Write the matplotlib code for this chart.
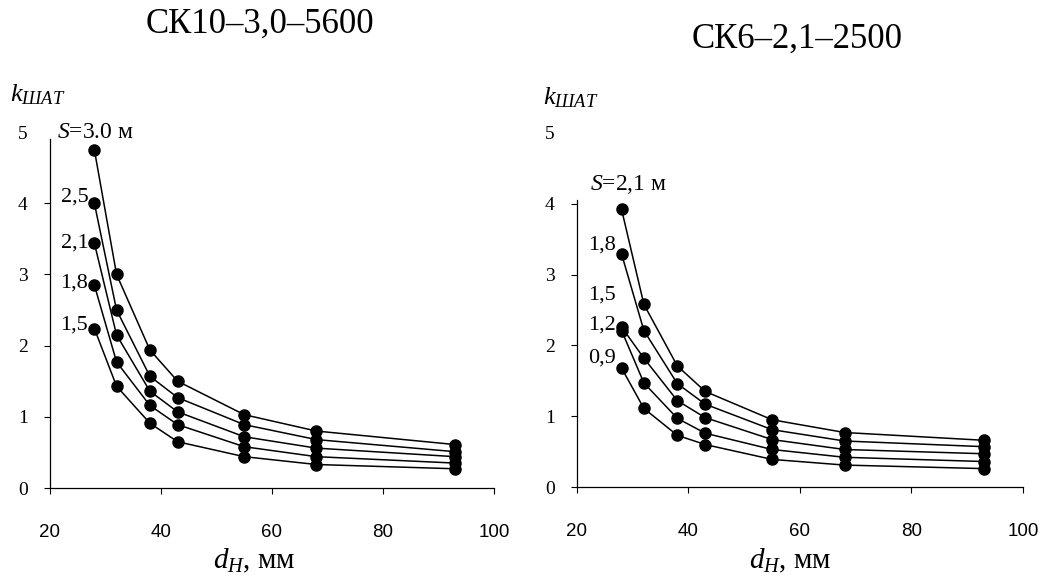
import matplotlib
matplotlib.use("Agg")
import matplotlib.pyplot as plt

plt.rcParams['font.family'] = ['Liberation Serif', 'DejaVu Serif']
plt.rcParams['mathtext.fontset'] = 'custom'
plt.rcParams['mathtext.rm'] = 'Liberation Serif'
plt.rcParams['mathtext.it'] = 'Liberation Serif:italic'

# plunger diameter, mm
d_n = [28, 32, 38, 43, 55, 68, 93]

# СК10-3,0-5600, stroke lengths S (m)
left_title = "СК10–3,0–5600"
left_labels = ["$S$=3.0 м", "2,5", "2,1", "1,8", "1,5"]
k_30 = [4.75, 3.00, 1.94, 1.50, 1.03, 0.80, 0.61]
k_25 = [4.00, 2.50, 1.57, 1.27, 0.89, 0.68, 0.51]
k_21 = [3.44, 2.15, 1.36, 1.07, 0.72, 0.56, 0.44]
k_18 = [2.85, 1.77, 1.16, 0.89, 0.58, 0.44, 0.35]
k_15 = [2.24, 1.43, 0.91, 0.65, 0.44, 0.33, 0.27]

# СК6-2,1-2500
right_title = "СК6–2,1–2500"
right_labels = ["$S$=2,1 м", "1,8", "1,5", "1,2", "0,9"]
r_21 = [3.92, 2.58, 1.71, 1.35, 0.95, 0.77, 0.66]
r_18 = [3.29, 2.21, 1.46, 1.17, 0.81, 0.65, 0.57]
r_15 = [2.26, 1.82, 1.22, 0.98, 0.67, 0.53, 0.47]
r_12 = [2.21, 1.47, 0.97, 0.76, 0.53, 0.42, 0.36]
r_09 = [1.68, 1.11, 0.73, 0.60, 0.39, 0.31, 0.26]

x_ticks = [20, 40, 60, 80, 100]
y_ticks = [0, 1, 2, 3, 4, 5]

fig = plt.figure(figsize=(10.43, 5.75), dpi=100)


def panel(rect, series, labels, label_pos, spine_top):
    ax = fig.add_axes(rect)
    for k in series:
        ax.plot(d_n, k, 'k-', lw=1.1, marker='o', ms=8, mfc='k', mec='k')
    for i, (lab, (lx, ly, ha)) in enumerate(zip(labels, label_pos)):
        ax.text(lx, ly, lab, ha=ha, va='center', fontsize=17 if i == 0 else 16)
    ax.set_xlim(20, 100)
    ax.set_ylim(0, 5)
    ax.set_xticks(x_ticks)
    ax.set_yticks(y_ticks)
    ax.spines['top'].set_visible(False)
    ax.spines['right'].set_visible(False)
    ax.spines['left'].set_bounds(0, spine_top)
    for s in ('left', 'bottom'):
        ax.spines[s].set_linewidth(0.9)
    ax.tick_params(axis='y', direction='out', length=4, width=0.8, pad=12,
                   labelsize=14)
    ax.tick_params(axis='x', direction='out', length=4, width=0.8, pad=22,
                   labelsize=13.5)
    ax.yaxis.get_major_ticks()[-1].tick1line.set_visible(False)
    for t in ax.get_xticklabels():
        t.set_fontfamily(['Liberation Sans Narrow', 'Liberation Sans'])
    ax.patch.set_alpha(0)
    return ax


axl = panel([0.0479, 0.1513, 0.4257, 0.6191],
            [k_30, k_25, k_21, k_18, k_15], left_labels,
            [(21.3, 5.0, 'left'), (26.9, 4.09, 'right'), (26.9, 3.44, 'right'),
             (26.9, 2.88, 'right'), (26.9, 2.29, 'right')], 4.9)
axr = panel([0.5532, 0.1530, 0.4276, 0.6157],
            [r_21, r_18, r_15, r_12, r_09], right_labels,
            [(22.3, 4.27, 'left'), (26.9, 3.42, 'right'), (26.9, 2.71, 'right'),
             (26.9, 2.29, 'right'), (26.9, 1.82, 'right')], 4.05)

fig.text(260 / 1043, 1 - 24 / 575, left_title, ha='center', va='center', fontsize=25)
fig.text(797 / 1043, 1 - 39 / 575, right_title, ha='center', va='center', fontsize=25)

fig.text(10 / 1043, 1 - 95 / 575, "$k_{ШАТ}$", ha='left', va='center', fontsize=19)
fig.text(543 / 1043, 1 - 98 / 575, "$k_{ШАТ}$", ha='left', va='center', fontsize=19)

fig.text(254 / 1043, 1 - 561 / 575, "$d_{Н}$, мм", ha='center', va='center', fontsize=21)
fig.text(790 / 1043, 1 - 561 / 575, "$d_{Н}$, мм", ha='center', va='center', fontsize=21)

fig.savefig("out.png", dpi=100, facecolor='white')
